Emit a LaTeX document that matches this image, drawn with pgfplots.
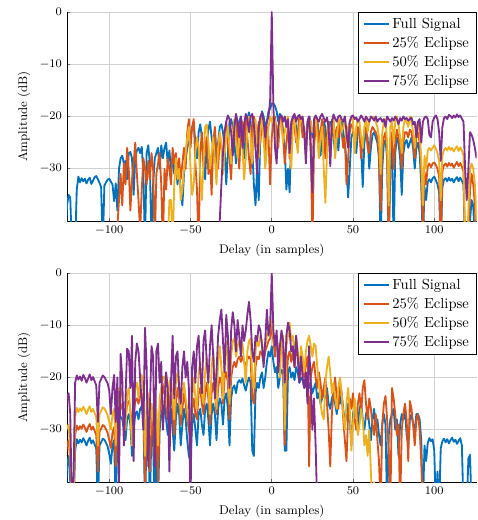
\documentclass[border=0pt]{standalone}
\usepackage{pgfplots}
\usepackage{pgfplotstable}
\pgfplotsset{compat=1.18}

\definecolor{c1}{rgb}{0,0.447,0.741}
\definecolor{c2}{rgb}{0.85,0.325,0.098}
\definecolor{c3}{rgb}{0.929,0.694,0.125}
\definecolor{c4}{rgb}{0.494,0.184,0.556}

% top: correlation of the full / eclipsed signals
\pgfplotstableread{
x full e25 e50 e75
-127 -45 -45 -45 -45
-126 -37 -45 -45 -45
-125 -35 -45 -45 -45
-124 -35.5 -45 -45 -45
-123 -45 -45 -45 -45
-122 -45 -45 -45 -45
-121 -45 -45 -45 -45
-120 -34 -45 -45 -45
-119 -31.5 -45 -45 -45
-118 -32.6 -45 -45 -45
-117 -31.8 -45 -45 -45
-116 -32.4 -45 -45 -45
-115 -31.9 -45 -45 -45
-114 -32.8 -45 -45 -45
-113 -32.1 -45 -45 -45
-112 -31.7 -45 -45 -45
-111 -32.9 -45 -45 -45
-110 -32.3 -45 -45 -45
-109 -31.6 -45 -45 -45
-108 -31.4 -45 -45 -45
-107 -32 -45 -45 -45
-106 -32.7 -45 -45 -45
-105 -33.5 -45 -45 -45
-104 -45 -45 -45 -45
-103 -33.2 -45 -45 -45
-102 -32.6 -45 -45 -45
-101 -32.1 -45 -45 -45
-100 -31.9 -45 -45 -45
-99 -32.5 -45 -45 -45
-98 -33 -45 -45 -45
-97 -36.2 -45 -45 -45
-96 -32.8 -45 -45 -45
-95 -38 -41 -45 -45
-94 -30 -36 -45 -45
-93 -28 -31 -45 -45
-92 -27.5 -37 -45 -45
-91 -29 -29 -45 -45
-90 -28.5 -33 -45 -45
-89 -32 -26 -45 -45
-88 -27 -30 -45 -45
-87 -26.8 -38 -45 -45
-86 -28 -32 -45 -45
-85 -35 -29 -45 -45
-84 -28 -25 -45 -45
-83 -26.5 -31 -45 -45
-82 -26 -36 -45 -45
-81 -27 -42 -45 -45
-80 -25.8 -34 -45 -45
-79 -31 -28 -45 -45
-78 -45 -30 -45 -45
-77 -27 -33 -45 -45
-76 -25.5 -28.5 -45 -45
-75 -29 -32 -45 -45
-74 -45 -27 -45 -45
-73 -33 -30 -45 -45
-72 -28 -45 -45 -45
-71 -27 -31 -45 -45
-70 -26 -29 -45 -45
-69 -30 -27 -45 -45
-68 -25.5 -33 -45 -45
-67 -28 -45 -45 -45
-66 -26 -30 -45 -45
-65 -25 -34 -45 -45
-64 -29 -28 -45 -45
-63 -26.5 -30 -36 -45
-62 -30 -33 -36 -45
-61 -28 -26 -45 -45
-60 -31 -29 -33 -45
-59 -29 -27 -28 -45
-58 -33 -31 -32 -45
-57 -30 -28 -30 -45
-56 -34 -32 -36 -45
-55 -37 -29 -34 -45
-54 -31 -26 -30 -45
-53 -28 -30 -27 -45
-52 -26 -23 -24 -45
-51 -25 -20.5 -22 -45
-50 -24 -26 -30 -45
-49 -22 -22 -35 -45
-48 -21.5 -20.5 -33 -45
-47 -25 -29 -27 -45
-46 -28 -34 -24 -45
-45 -23 -45 -26 -45
-44 -21.5 -27 -31 -45
-43 -24 -23 -36 -45
-42 -27 -30 -29 -45
-41 -32 -26 -22 -45
-40 -25 -24 -21.5 -45
-39 -22.5 -31 -25 -45
-38 -21 -28 -30 -45
-37 -24 -35 -27 -45
-36 -26 -25 -24 -45
-35 -23 -22 -28 -45
-34 -30 -27 -33 -45
-33 -25 -30 -26 -45
-32 -22 -24 -23 -40
-31 -21.5 -26 -25 -33
-30 -23 -29 -31 -27
-29 -26 -23 -27 -23
-28 -33 -21 -24 -21
-27 -27 -25 -22 -19.8
-26 -21 -28 -26 -20.5
-25 -20.5 -32 -29 -23
-24 -22 -24 -23 -27.5
-23 -25 -22 -20.5 -22
-22 -29 -20 -25 -19.5
-21 -23 -26 -28 -21
-20 -21 -30 -23 -24
-19 -20 -23 -21 -20
-18 -22 -21 -26 -26
-17 -28 -25 -32 -21.5
-16 -24 -20.5 -28 -19.5
-15 -20.5 -24 -22 -20.5
-14 -19.2 -28 -20 -23
-13 -21 -31 -24 -20
-12 -26 -22 -29 -19.5
-11 -33 -20 -22 -21.5
-10 -37 -26 -20.5 -26
-9 -30 -24 -25 -31
-8 -36 -21 -28 -22
-7 -23 -25 -23 -20
-6 -19 -20.5 -20 -19.3
-5 -20 -23 -24 -21
-4 -22 -27 -30 -24
-3 -21 -22 -26 -21
-2 -19 -24 -22 -20
-1 -18.5 -33 -20 -17
0 -17.5 -24 -21 0
1 -17.5 -21 -20 -18
2 -18 -20 -21 -26
3 -19 -23 -28 -29
4 -21 -26 -24 -22
5 -19.5 -21 -20.5 -20
6 -20 -20 -22 -19.8
7 -23 -24 -25 -21
8 -26 -29 -23 -20
9 -34 -25 -21 -22
10 -30 -22 -20 -20.5
11 -34.5 -28 -26 -27
12 -24 -23 -30 -21
13 -21 -20.5 -22 -20
14 -20 -22 -20.5 -19.5
15 -22 -25 -24 -21
16 -25 -23 -27 -20
17 -21 -20 -22 -19.7
18 -20.5 -21 -20 -20.5
19 -22 -24 -21 -20
20 -23 -22 -23 -23
21 -26 -27 -26 -29
22 -22 -21 -22 -21
23 -20 -20 -20.5 -20
24 -21 -24 -21 -27
25 -24 -45 -23 -34.5
26 -22 -26 -22 -20.5
27 -20.5 -22 -20 -19.8
28 -21 -21 -24 -20.5
29 -23 -25 -28 -21
30 -27.5 -23 -24 -20
31 -24 -20.5 -22 -19.5
32 -21 -22 -30 -20.3
33 -22 -28 -36.5 -21
34 -26 -24 -27 -20.2
35 -23 -21 -22 -22
36 -21 -28 -25 -29.5
37 -22 -23 -21 -21
38 -24 -21 -20 -19.6
39 -27 -25 -28 -20.4
40 -23 -22 -24 -21
41 -26.5 -24 -21 -20
42 -22 -21 -20.5 -19.8
43 -21 -23 -23 -20.5
44 -23 -26 -22 -21
45 -25 -24 -20 -20
46 -29 -33 -25 -23
47 -35.5 -28 -22 -26
48 -30 -23 -21 -21
49 -24 -21.5 -20 -20
50 -23 -22 -21 -19.8
51 -24 -26 -27 -20.5
52 -27 -24 -22 -20.2
53 -23 -22 -20.5 -21
54 -22 -23 -21 -20.5
55 -26 -28 -24 -19.8
56 -33.5 -25 -26 -20.3
57 -25 -23 -22 -21
58 -23 -22 -20 -20
59 -24 -26 -23 -20.5
60 -30 -27 -21 -21
61 -26 -23 -20.3 -20
62 -23.5 -22 -20 -20.3
63 -23 -22.5 -20.2 -20.8
64 -24 -23 -21 -20
65 -25 -24 -22 -21
66 -28 -27 -24 -20.5
67 -45 -38 -31 -20.3
68 -30 -26 -23 -21
69 -25 -24 -21 -20.5
70 -24.5 -23 -20.5 -22
71 -28 -27 -25 -20
72 -45 -45 -37 -20.5
73 -29 -26 -22 -21
74 -25 -23 -21 -20.3
75 -45 -30 -25 -20.8
76 -27 -25 -21 -20
77 -24 -22.5 -20 -20.5
78 -25 -24 -21.5 -21.5
79 -28 -26 -24 -20.3
80 -35 -30 -27 -20.8
81 -27 -25 -22 -20
82 -25 -23 -20.5 -20.5
83 -24.5 -23 -21 -20.3
84 -26 -24 -22 -20.8
85 -25 -22.5 -20 -20.5
86 -24 -23 -21 -20.2
87 -26 -25 -23 -21.5
88 -30 -28 -26 -21
89 -26 -24 -22 -24
90 -25 -23 -21 -21
91 -27 -25 -23 -20.5
92 -33 -30 -28 -25
93 -45 -42 -37 -21
94 -33.5 -30.5 -27.5 -20.2
95 -36 -33 -30 -20
96 -32.5 -29.5 -26.5 -20.5
97 -32 -29 -26 -23.5
98 -32.6 -29.7 -26.5 -24
99 -31.8 -29 -26 -21
100 -31.5 -28.8 -25.5 -20.2
101 -32.2 -29.3 -26.2 -19.8
102 -33 -30 -27 -20.5
103 -34.5 -31.5 -28.5 -23
104 -45 -45 -36 -28.5
105 -33.5 -30.5 -27.5 -22
106 -32.1 -29.3 -26.4 -20.3
107 -31.8 -29 -26 -20
108 -32.4 -29.6 -26.5 -20.5
109 -31.7 -28.9 -25.8 -19.7
110 -32.3 -29.4 -26.4 -19.9
111 -31.9 -29 -26 -20.3
112 -32.6 -29.8 -26.7 -19.8
113 -32 -29.2 -26.1 -20.2
114 -31.6 -28.7 -25.7 -19.6
115 -32.4 -29.5 -26.6 -20.1
116 -31.7 -28.9 -25.9 -19.8
117 -32.3 -29.6 -26.5 -20.4
118 -33 -30.5 -27.5 -21
119 -45 -45 -45 -30
120 -45 -45 -45 -36
121 -45 -45 -38 -30
122 -40 -34 -30 -23
123 -36 -31 -29 -23.5
124 -37 -33 -30 -24.5
125 -45 -37 -33 -26
126 -45 -45 -40 -28
}\toptab

% bottom
\pgfplotstableread{
x full e25 e50 e75
-127 -45 -36 -31 -30
-126 -37 -33 -29.5 -23.5
-125 -35 -32 -29 -23
-124 -40 -36 -34 -27
-123 -45 -45 -45 -45
-122 -45 -45 -45 -40
-121 -34 -31 -27.5 -21
-120 -31.8 -29.2 -25.8 -19.6
-119 -32.6 -30 -26.6 -20.4
-118 -31.9 -29.3 -25.9 -19.8
-117 -32.4 -29.8 -26.4 -20.6
-116 -31.6 -29 -25.6 -19.5
-115 -32.2 -29.6 -26.2 -20.1
-114 -33 -30.4 -27 -21
-113 -32.1 -29.5 -26.1 -20.2
-112 -31.5 -28.9 -25.5 -19.4
-111 -32.6 -30 -26.6 -20.5
-110 -32 -29.4 -26 -19.9
-109 -32.8 -30.2 -26.8 -20.7
-108 -33.6 -31 -27.6 -21.5
-107 -45 -38 -33 -28.5
-106 -33 -30.4 -27 -21
-105 -32.4 -29.8 -26.4 -20.3
-104 -31.7 -29.1 -25.7 -19.6
-103 -31.9 -29.3 -25.9 -19.9
-102 -32.5 -29.9 -26.5 -20.5
-101 -33.2 -30.6 -27.2 -21.1
-100 -34.6 -32 -28.6 -22.5
-99 -36.5 -33.5 -30 -27
-98 -33 -30.5 -27 -22
-97 -32 -29.5 -26 -19.5
-96 -45 -37 -33 -28.5
-95 -32 -29 -26 -20
-94 -28 -26 -22 -40
-93 -27.5 -25 -22 -15.5
-92 -28 -26 -24 -20
-91 -30 -27 -29 -33
-90 -32 -28 -30 -24
-89 -28 -25 -23 -14.5
-88 -27 -24.5 -22 -15
-87 -29 -26 -27 -22
-86 -35 -30 -33 -12
-85 -30 -27 -25 -36
-84 -27 -24.5 -22 -17
-83 -26.5 -24 -21 -13.5
-82 -28 -25 -24 -15
-81 -26 -23.5 -20.5 -20
-80 -25.5 -23 -19.5 -25
-79 -27 -25 -23 -30
-78 -45 -40 -35 -10.5
-77 -31 -28 -25 -18
-76 -28 -26 -23 -37
-75 -45 -38 -31 -26
-74 -29 -27 -25 -14
-73 -33 -30 -28 -16
-72 -45 -36 -30 -37
-71 -32 -29 -26 -15
-70 -45 -40 -33 -13.5
-69 -30 -27 -24 -21
-68 -27 -24 -22 -17
-67 -26 -23 -20 -30
-66 -25.2 -21 -19.8 -25
-65 -28 -25 -24 -19
-64 -31 -28 -26 -22
-63 -27 -24 -21 -38
-62 -26 -23 -20 -21
-61 -30 -26 -24 -12
-60 -34 -31 -28 -24
-59 -28 -25 -21 -16
-58 -25 -22 -19 -15
-57 -27 -24 -22 -22
-56 -33 -29 -27 -25
-55 -29 -26 -23 -18
-54 -26 -23 -21 -15
-53 -28 -25 -24 -20
-52 -32 -28 -26 -17
-51 -35 -30 -29 -22
-50 -36 -32 -30 -45
-49 -29 -26 -24 -18
-48 -27 -24 -20 -15
-47 -30 -27 -24 -21
-46 -33 -28 -26 -14
-45 -27 -23 -19 -12
-44 -26 -22 -17 -19
-43 -29 -25 -23 -23
-42 -31 -27 -25 -13
-41 -26 -23 -19 -11
-40 -25 -21 -16 -17
-39 -28 -24 -22 -21
-38 -33 -29 -27 -14
-37 -27 -23 -18 -10
-36 -25 -21 -15 -16
-35 -27 -23 -20 -24
-34 -32 -27 -26 -19
-33 -26 -22 -17 -12
-32 -24 -20 -14 -9
-31 -25 -21 -18 -7
-30 -29 -25 -24 -13
-29 -24 -20 -15 -19
-28 -23 -19 -13 -8
-27 -26 -21 -18 -12
-26 -33 -28 -25 -22
-25 -24 -20 -16 -11
-24 -22 -18 -13 -7.5
-23 -21.5 -17 -12.5 -10
-22 -23 -18 -16 -15
-21 -21 -16.5 -14 -9
-20 -20.5 -16 -13 -12
-19 -21 -17 -15 -16
-18 -20.2 -16 -13.5 -10
-17 -21.5 -17 -17 -13
-16 -22.5 -18 -21 -11
-15 -21 -16.5 -15 -8
-14 -20 -16 -13 -5.5
-13 -21 -16.5 -12.5 -9
-12 -34 -24 -20 -15
-11 -35 -25 -22 -17
-10 -23 -18 -15 -12
-9 -21 -16 -13 -13
-8 -22 -16.5 -14 -10
-7 -20 -15 -12 -11
-6 -19 -15.5 -13 -14
-5 -22 -17 -16 -18
-4 -20 -15 -14 -13
-3 -17 -14 -12 -7
-2 -15 -13 -11.5 -12
-1 -16 -12.5 -10 -10
0 -14 -10 -9 0
1 -17 -13 -12 -11
2 -19 -16 -14 -14
3 -18 -12 -12 -11
4 -22 -15 -17 -19
5 -20 -17 -20 -14
6 -18.5 -14 -13 -11
7 -19 -15 -12 -13
8 -34 -33 -30 -21
9 -34 -22 -14 -12
10 -19 -16 -12 -9.5
11 -18 -15 -9.5 -11
12 -20 -17 -13 -15
13 -19 -15 -12 -14
14 -20.5 -18 -16 -18
15 -18 -14 -12 -12
16 -19 -16 -15 -16
17 -21 -20 -19 -21
18 -20 -16 -14 -16
19 -20.5 -18 -16 -20
20 -22 -20 -19 -22
21 -21 -17 -15 -19
22 -20 -16 -13 -25
23 -22 -37 -12 -14
24 -21 -20 -14 -21
25 -23 -18 -16 -30
26 -22 -17 -13.5 -24
27 -21 -20 -14 -33
28 -24 -22 -18 -45
29 -23 -19 -21 -45
30 -25 -21 -25 -45
31 -24 -24 -27 -45
32 -23 -22 -28 -45
33 -24 -20 -21 -45
34 -22 -25 -18 -45
35 -25 -30 -16 -45
36 -26 -37 -19 -45
37 -24 -27 -23 -45
38 -23 -23 -21 -45
39 -25 -20 -24 -45
40 -27 -24 -26 -45
41 -24 -26 -22 -45
42 -25 -21 -20 -45
43 -23 -23 -23 -45
44 -26 -28 -27 -45
45 -29 -32 -30 -45
46 -27 -36 -25 -45
47 -25 -27 -22 -45
48 -28 -24 -26 -45
49 -33 -26 -34 -45
50 -27 -23 -29 -45
51 -25 -28 -24 -45
52 -27 -30 -27 -45
53 -29 -25 -31 -45
54 -26 -23 -29 -45
55 -25 -27 -26 -45
56 -28 -22 -28 -45
57 -30 -20.5 -33 -45
58 -27 -25 -31 -45
59 -26 -28 -35 -45
60 -29 -24 -30 -45
61 -32 -26 -38 -45
62 -28 -29 -45 -45
63 -26 -31 -40 -45
64 -30 -27 -45 -45
65 -28 -32 -45 -45
66 -31 -36 -45 -45
67 -33 -45 -45 -45
68 -29 -29 -45 -45
69 -27 -25 -45 -45
70 -29 -23.5 -45 -45
71 -45 -28 -45 -45
72 -31 -34 -45 -45
73 -28 -45 -45 -45
74 -27 -22 -45 -45
75 -26 -24 -45 -45
76 -30 -27 -45 -45
77 -28 -31 -45 -45
78 -35 -29 -45 -45
79 -29 -45 -45 -45
80 -27 -30 -45 -45
81 -28 -27 -45 -45
82 -26 -25 -45 -45
83 -31 -28 -45 -45
84 -33 -36 -45 -45
85 -28 -24.5 -45 -45
86 -27 -26 -45 -45
87 -29 -29 -45 -45
88 -30 -33 -45 -45
89 -27 -28 -45 -45
90 -27 -27 -45 -45
91 -28 -30 -45 -45
92 -32 -36 -45 -45
93 -45 -45 -45 -45
94 -33 -45 -45 -45
95 -36 -45 -45 -45
96 -32.5 -45 -45 -45
97 -31.6 -45 -45 -45
98 -32.2 -45 -45 -45
99 -31.8 -45 -45 -45
100 -34 -45 -45 -45
101 -45 -45 -45 -45
102 -38 -45 -45 -45
103 -45 -45 -45 -45
104 -33.5 -45 -45 -45
105 -32.2 -45 -45 -45
106 -31.7 -45 -45 -45
107 -32.4 -45 -45 -45
108 -31.8 -45 -45 -45
109 -32.6 -45 -45 -45
110 -32 -45 -45 -45
111 -31.5 -45 -45 -45
112 -32.3 -45 -45 -45
113 -31.9 -45 -45 -45
114 -32.7 -45 -45 -45
115 -32.1 -45 -45 -45
116 -31.6 -45 -45 -45
117 -33 -45 -45 -45
118 -45 -45 -45 -45
119 -45 -45 -45 -45
120 -45 -45 -45 -45
121 -35.5 -45 -45 -45
122 -34.8 -45 -45 -45
123 -45 -45 -45 -45
124 -45 -45 -45 -45
125 -45 -45 -45 -45
126 -45 -45 -45 -45
}\bottab

\pgfplotsset{
  corr/.style={
    scale only axis,
    width=280.5pt, height=143.2pt,
    xmin=-126, xmax=126, ymin=-40, ymax=0,
    xtick={-100,-50,0,50,100},
    ytick={-30,-20,-10,0},
    axis lines=left,
    axis line style={-, line width=0.6pt},
    grid=major,
    major grid style={black!18, line width=0.5pt},
    tick align=inside,
    major tick length=2pt,
    tick style={black!60, line width=0.5pt},
    ticklabel style={font=\footnotesize},
    label style={font=\fontsize{8.6}{10}\selectfont},
    xlabel={Delay (in samples)},
    ylabel={Amplitude (dB)},
    xlabel style={at={(axis description cs:0.5,-0.139)}, anchor=center},
    ylabel style={at={(axis description cs:-0.105,0.5)}, anchor=center},
    legend style={at={(1,1)}, anchor=north east, draw=black,
      font=\normalsize, fill=white},
    legend cell align=left,
    every axis plot/.append style={line width=1.25pt, line join=round},
  }
}

\begin{document}
\begin{tikzpicture}
\begin{axis}[corr, at={(0,0)}, anchor=south west]
  \addplot[c1] table[x=x, y=full] {\toptab};
  \addplot[c2] table[x=x, y=e25] {\toptab};
  \addplot[c3] table[x=x, y=e50] {\toptab};
  \addplot[c4] table[x=x, y=e75] {\toptab};
  \legend{Full Signal, 25\% Eclipse, 50\% Eclipse, 75\% Eclipse}
\end{axis}
\begin{axis}[corr, at={(0,-178.8pt)}, anchor=south west]
  \addplot[c1] table[x=x, y=full] {\bottab};
  \addplot[c2] table[x=x, y=e25] {\bottab};
  \addplot[c3] table[x=x, y=e50] {\bottab};
  \addplot[c4] table[x=x, y=e75] {\bottab};
  \legend{Full Signal, 25\% Eclipse, 50\% Eclipse, 75\% Eclipse}
\end{axis}
\pgfresetboundingbox
\path (-45.9pt,151.4pt) rectangle (280.9pt,-204.8pt);
\end{tikzpicture}
\end{document}
